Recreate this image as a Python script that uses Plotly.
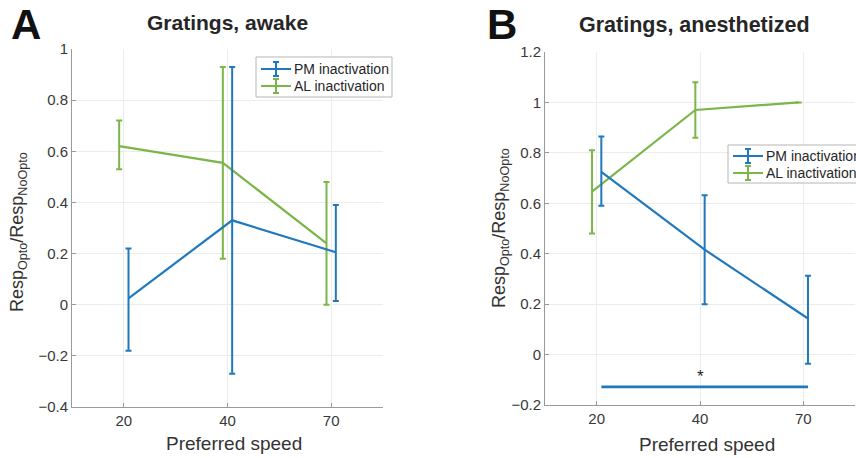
import plotly.graph_objects as go

W, H = 856, 458

# ---------------- data ----------------
speed_labels = ["20", "40", "70"]
speed_pos = [1, 2, 3]

# Panel A: gratings, awake
a_pm_mean = [0.025, 0.33, 0.205]
a_pm_hi = [0.22, 0.93, 0.39]
a_pm_lo = [-0.18, -0.27, 0.015]
a_al_mean = [0.62, 0.555, 0.24]
a_al_hi = [0.72, 0.93, 0.48]
a_al_lo = [0.53, 0.18, 0.0]

# Panel B: gratings, anesthetized
b_pm_mean = [0.725, 0.416, 0.143]
b_pm_hi = [0.865, 0.632, 0.313]
b_pm_lo = [0.59, 0.20, -0.036]
b_al_mean = [0.646, 0.97, 1.0]
b_al_hi = [0.81, 1.08, 1.0]
b_al_lo = [0.48, 0.86, 1.0]

b_sig_y = -0.128
b_sig_label = "*"

series_names = ["PM inactivation", "AL inactivation"]
titles = ["Gratings, awake", "Gratings, anesthetized"]
panel_letters = ["A", "B"]
x_title = "Preferred speed"
y_title = "Resp<sub>Opto</sub>/Resp<sub>NoOpto</sub>"

# ---------------- style ----------------
BLUE = "#2179bd"
GREEN = "#7ab648"
FONT = "Liberation Sans, Arial, sans-serif"
TXT = "#262626"
OFF = 0.045

def px(x):
    return x / W

def py(y):
    return 1 - y / H

fig = go.Figure()

def add_series(mean, hi, lo, color, shift, xa, ya):
    xs = [p + shift for p in speed_pos]
    fig.add_trace(go.Scatter(
        x=xs, y=mean, mode="lines", xaxis=xa, yaxis=ya,
        line=dict(color=color, width=2.2), showlegend=False,
        error_y=dict(type="data", symmetric=False,
                     array=[h - m for h, m in zip(hi, mean)],
                     arrayminus=[m - l for m, l in zip(mean, lo)],
                     color=color, thickness=2, width=3),
    ))

add_series(a_al_mean, a_al_hi, a_al_lo, GREEN, -OFF, "x", "y")
add_series(a_pm_mean, a_pm_hi, a_pm_lo, BLUE, OFF, "x", "y")
add_series(b_al_mean, b_al_hi, b_al_lo, GREEN, -OFF, "x2", "y2")
add_series(b_pm_mean, b_pm_hi, b_pm_lo, BLUE, OFF, "x2", "y2")

# significance bar in panel B (from PM 20 to PM 70)
fig.add_trace(go.Scatter(
    x=[speed_pos[0] + OFF, speed_pos[-1] + OFF], y=[b_sig_y, b_sig_y],
    mode="lines", xaxis="x2", yaxis="y2", showlegend=False,
    line=dict(color=BLUE, width=2.6)))
fig.add_annotation(x=speed_pos[1], y=b_sig_y, xref="x2", yref="y2",
                   text=b_sig_label, showarrow=False, yshift=10,
                   font=dict(family=FONT, size=17, color=TXT))

axis_common = dict(
    showline=True, linecolor="#9a9a9a", linewidth=1,
    ticks="inside", ticklen=4, tickcolor="#9a9a9a",
    showgrid=True, gridcolor="#ececec", gridwidth=1,
    zeroline=False, mirror=False, automargin=False,
    tickfont=dict(family=FONT, size=15, color="#383838"),
)

fig.update_layout(
    width=W, height=H,
    margin=dict(l=0, r=0, t=0, b=0),
    paper_bgcolor="white", plot_bgcolor="white",
    showlegend=False,
    xaxis=dict(domain=[px(72), px(383)], range=[0.5, 3.5],
               tickvals=speed_pos, ticktext=speed_labels, anchor="y", **axis_common),
    yaxis=dict(domain=[py(407), py(49)], range=[-0.4, 1.0], dtick=0.2,
               tickformat="~g", anchor="x", **axis_common),
    xaxis2=dict(domain=[px(545), px(855)], range=[0.5, 3.5],
                tickvals=speed_pos, ticktext=speed_labels, anchor="y2", **axis_common),
    yaxis2=dict(domain=[py(405), py(52)], range=[-0.2, 1.2], dtick=0.2,
                tickformat="~g", anchor="x2", **axis_common),
)

# titles, axis titles, panel letters
def text(x, y, s, size, bold=False, angle=0, color=TXT, xanchor="center"):
    fig.add_annotation(x=px(x), y=py(y), xref="paper", yref="paper",
                       text=f"<b>{s}</b>" if bold else s, showarrow=False,
                       textangle=angle, xanchor=xanchor, yanchor="middle",
                       font=dict(family=FONT, size=size, color=color))

text(26, 24, panel_letters[0], 42, bold=True, color="#111111")
text(502, 24, panel_letters[1], 42, bold=True, color="#111111")
text(227, 22, titles[0], 21, bold=True)
text(694, 25, titles[1], 21.5, bold=True)
text(234, 443, x_title, 19, color="#333333")
text(707, 444, x_title, 19, color="#333333")
text(19, 232, y_title, 18, angle=-90, color="#333333")
text(500, 228, y_title, 18, angle=-90, color="#333333")

# manual legends (MATLAB style with error-bar icons)
def legend(x0, y0, x1, y1, rows):
    fig.add_shape(type="rect", xref="paper", yref="paper",
                  x0=px(x0), x1=px(x1), y0=py(y1), y1=py(y0),
                  line=dict(color="#b5b5b5", width=1), fillcolor="white", layer="above")
    for (yy, name, color) in rows:
        ix0, ix1 = x0 + 5, x0 + 35
        cx = (ix0 + ix1) / 2
        fig.add_shape(type="line", xref="paper", yref="paper",
                      x0=px(ix0), x1=px(ix1), y0=py(yy), y1=py(yy),
                      line=dict(color=color, width=2), layer="above")
        fig.add_shape(type="line", xref="paper", yref="paper",
                      x0=px(cx), x1=px(cx), y0=py(yy - 7), y1=py(yy + 7),
                      line=dict(color=color, width=2), layer="above")
        for cy in (yy - 7, yy + 7):
            fig.add_shape(type="line", xref="paper", yref="paper",
                          x0=px(cx - 3), x1=px(cx + 3), y0=py(cy), y1=py(cy),
                          line=dict(color=color, width=2), layer="above")
        fig.add_annotation(x=px(ix1 + 1), y=py(yy), xref="paper", yref="paper",
                           text=name, showarrow=False, xanchor="left", yanchor="middle",
                           font=dict(family=FONT, size=14, color=TXT))

legend(256, 57, 392, 97, [(69, series_names[0], BLUE), (86, series_names[1], GREEN)])
legend(728, 145, 870, 183, [(156, series_names[0], BLUE), (173, series_names[1], GREEN)])

fig.write_html("out.html", config={"displayModeBar": False},
               post_script="document.body.style.margin='0';document.body.style.overflow='hidden';")
